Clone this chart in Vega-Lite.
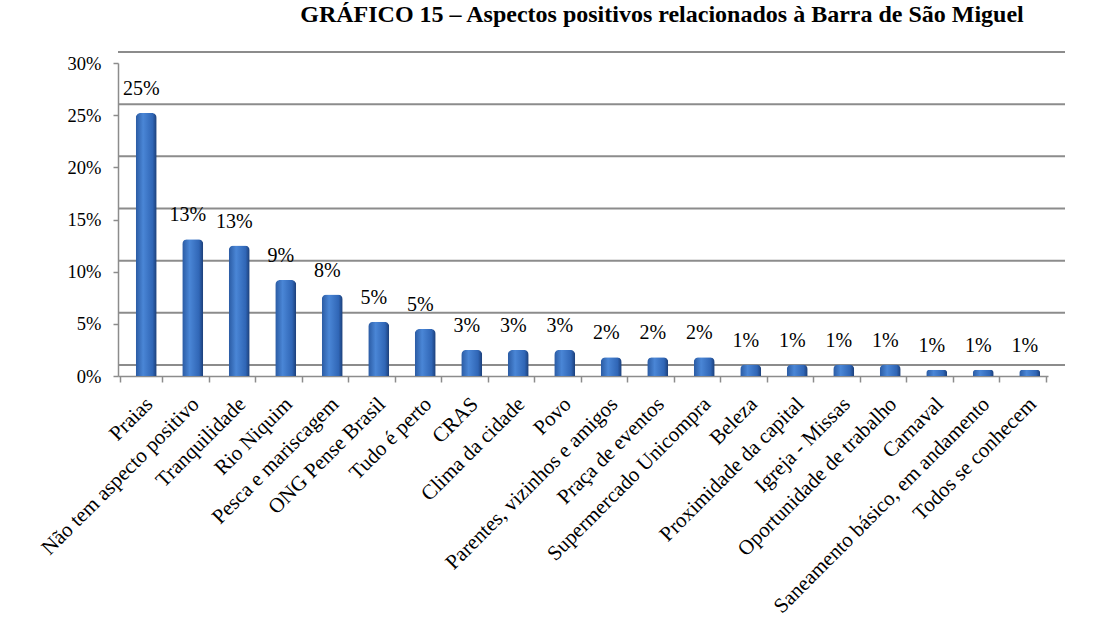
{
  "$schema": "https://vega.github.io/schema/vega-lite/v6.json",
  "autosize": {"type": "none"},
  "width": 930,
  "height": 313,
  "padding": {"left": 118, "top": 63, "right": 48, "bottom": 255},
  "background": "white",
  "title": {
    "text": "GRÁFICO 15 – Aspectos positivos relacionados à Barra de São Miguel",
    "font": "Liberation Serif",
    "fontSize": 24,
    "fontWeight": "bold",
    "color": "black",
    "anchor": "middle",
    "frame": "group",
    "dx": 79,
    "offset": 24
  },
  "config": {
    "view": {"stroke": null},
    "font": "Liberation Serif",
    "axis": {"labelFont": "Liberation Serif", "labelColor": "black"}
  },
  "datasets": {
    "grid": [
      {"nivel": 0},
      {"nivel": 0.05},
      {"nivel": 0.1},
      {"nivel": 0.15},
      {"nivel": 0.2},
      {"nivel": 0.25},
      {"nivel": 0.3}
    ],
    "dados": [
      {"aspecto": "Praias", "valor": 0.252},
      {"aspecto": "Não tem aspecto positivo", "valor": 0.131},
      {"aspecto": "Tranquilidade", "valor": 0.125},
      {"aspecto": "Rio Niquim", "valor": 0.092},
      {"aspecto": "Pesca e mariscagem", "valor": 0.078},
      {"aspecto": "ONG Pense Brasil", "valor": 0.052},
      {"aspecto": "Tudo é perto", "valor": 0.045},
      {"aspecto": "CRAS", "valor": 0.025},
      {"aspecto": "Clima da cidade", "valor": 0.025},
      {"aspecto": "Povo", "valor": 0.025},
      {"aspecto": "Parentes, vizinhos e amigos", "valor": 0.018},
      {"aspecto": "Praça de eventos", "valor": 0.018},
      {"aspecto": "Supermercado Unicompra", "valor": 0.018},
      {"aspecto": "Beleza", "valor": 0.011},
      {"aspecto": "Proximidade da capital", "valor": 0.011},
      {"aspecto": "Igreja - Missas", "valor": 0.011},
      {"aspecto": "Oportunidade de trabalho", "valor": 0.011},
      {"aspecto": "Carnaval", "valor": 0.006},
      {"aspecto": "Saneamento básico, em andamento", "valor": 0.006},
      {"aspecto": "Todos se conhecem", "valor": 0.006}
    ]
  },
  "layer": [
    {
      "data": {"name": "grid"},
      "mark": {"type": "rule", "color": "#8c8c8c", "strokeWidth": 2, "yOffset": -11, "xOffset": 17},
      "encoding": {
        "y": {"field": "nivel", "type": "quantitative", "title": null, "scale": {"domain": [0, 0.3], "nice": false}}
      }
    },
    {
      "data": {"name": "dados"},
      "encoding": {
        "x": {
          "field": "aspecto",
          "type": "nominal",
          "sort": null,
          "title": null,
          "axis": {
            "labelAngle": -45,
            "labelAlign": "right",
            "labelBaseline": "top",
            "labelFontSize": 21,
            "labelPadding": 11,
            "labelLimit": 400,
            "tickBand": "extent",
            "tickSize": 6,
            "tickColor": "#8c8c8c",
            "tickWidth": 1.5,
            "domainColor": "#8c8c8c",
            "domainWidth": 1.5
          }
        },
        "y": {
          "field": "valor",
          "type": "quantitative",
          "title": null,
          "scale": {"domain": [0, 0.3], "nice": false},
          "axis": {
            "values": [0, 0.05, 0.1, 0.15, 0.2, 0.25, 0.3],
            "format": ".0%",
            "labelFontSize": 18.5,
            "labelPadding": 12,
            "tickSize": 5,
            "tickColor": "#8c8c8c",
            "tickWidth": 1.5,
            "domainColor": "#8c8c8c",
            "domainWidth": 1.5,
            "grid": false
          }
        }
      },
      "layer": [
        {
          "mark": {
            "type": "bar",
            "size": 21,
            "xOffset": 5,
            "cornerRadiusTopLeft": 5,
            "cornerRadiusTopRight": 5,
            "fill": {
              "gradient": "linear",
              "x1": 0, "y1": 0, "x2": 1, "y2": 0,
              "stops": [
                {"offset": 0, "color": "#2a5aa2"},
                {"offset": 0.35, "color": "#4a86d6"},
                {"offset": 0.8, "color": "#3066b6"},
                {"offset": 1, "color": "#1b3d76"}
              ]
            }
          }
        },
        {
          "mark": {
            "type": "text",
            "baseline": "bottom",
            "dy": -14,
            "font": "Liberation Serif",
            "fontSize": 20,
            "fill": "black"
          },
          "encoding": {"text": {"field": "valor", "type": "quantitative", "format": ".0%"}}
        }
      ]
    }
  ]
}
